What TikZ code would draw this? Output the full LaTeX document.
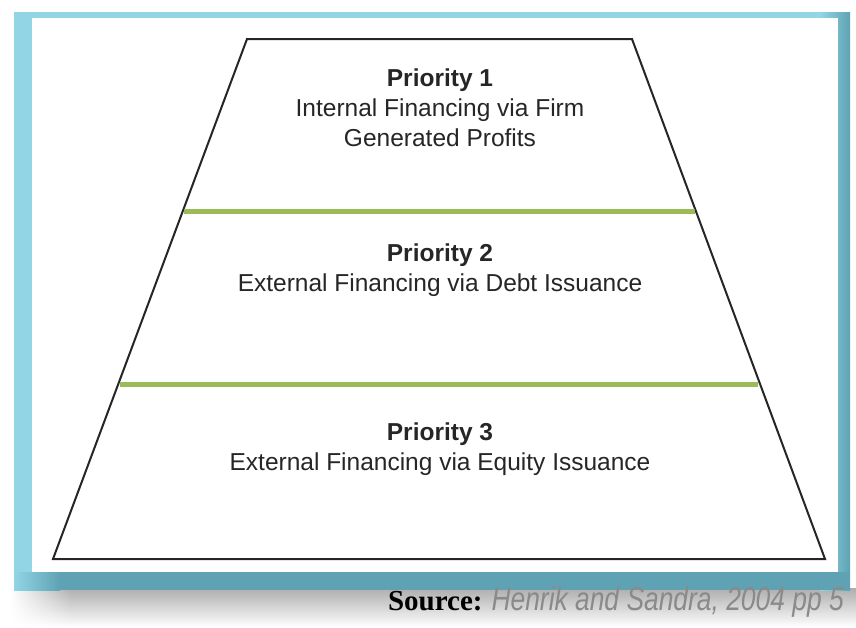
\documentclass[tikz,border=0pt]{standalone}
\usepackage{fontspec}
\usetikzlibrary{fadings}
\setmainfont{Liberation Sans}
\newfontfamily\srcserif{Liberation Serif}
\definecolor{framelight}{HTML}{92D6E6}
\definecolor{framedark}{HTML}{5FA2B4}
\definecolor{bandgreen}{HTML}{9BBB59}
\definecolor{srcgray}{HTML}{8A8A8A}
\tikzset{
  lbl/.style={align=center, text=black!85, font=\fontsize{24.5}{30}\selectfont},
  band/.style={line width=5pt, bandgreen},
  shadowfill/.style={top color=black!32, bottom color=white},
}
\begin{document}
\begin{tikzpicture}[x=1pt, y=-1pt]
  \useasboundingbox (0,0) rectangle (856,627);

  % ombra sotto la cornice
  \shade[shadowfill] (70,588) rectangle (856,627);
  \shade[shadowfill, path fading=west] (10,588) rectangle (70.5,627);

  % cornice
  \fill[framelight] (14,12) rectangle (850,590);
  \shade[left color=framelight, right color=framedark] (820,12) rectangle (850,590);
  \fill[framedark] (30,572) rectangle (850,590);
  \shade[left color=framelight, right color=framedark] (14,572) rectangle (60,590);
  \fill[white] (32,18) rectangle (838,572);

  % trapezio
  \draw[line width=2pt, black!85, line join=miter]
    (247,39) -- (632,39) -- (825,559) -- (53,559) -- cycle;

  % fasce
  \draw[band] (184,211) -- (695,211);
  \draw[band] (120,384) -- (758,384);

  % etichette
  \node[lbl] (prio1) at (440,108) {\textbf{Priority 1}\\Internal Financing via Firm\\Generated Profits};
  \node[lbl] (prio2) at (440,270) {\textbf{Priority 2}\\External Financing via Debt Issuance};
  \node[lbl] (prio3) at (440,449) {\textbf{Priority 3}\\External Financing via Equity Issuance};

  % fonte
  \node[anchor=east, inner sep=0pt] (src) at (844,602)
    {{\srcserif\bfseries\fontsize{29}{32}\selectfont Source:}\hspace{9pt}%
     \scalebox{0.8}[1]{\color{srcgray}\itshape\fontsize{33}{36}\selectfont Henrik and Sandra, 2004 pp 5}};
\end{tikzpicture}
\end{document}
